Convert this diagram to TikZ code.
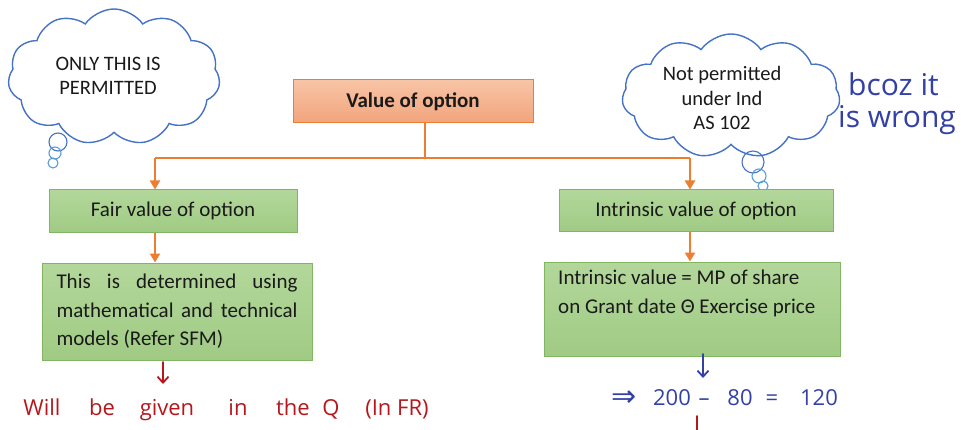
\documentclass[tikz,border=0pt]{standalone}
\usepackage{fontspec}
\setmainfont{Carlito}
\newfontfamily\handfont{Open Sans}
\newfontfamily\symfont{DejaVu Sans}
\usetikzlibrary{shapes.symbols,arrows.meta}

\definecolor{orangeline}{HTML}{ED7D31}
\definecolor{orangetop}{HTML}{F8C4A6}
\definecolor{orangebot}{HTML}{F2A47C}
\definecolor{greentop}{HTML}{B3D79B}
\definecolor{greenbot}{HTML}{A0CB84}
\definecolor{greenedge}{HTML}{82B562}
\definecolor{cloudblue}{HTML}{4472C4}
\definecolor{bubbleblue}{HTML}{5B9BD5}
\definecolor{inkblue}{HTML}{3341A6}
\definecolor{inkred}{HTML}{B5171C}
\definecolor{textcol}{HTML}{1A1A1A}

\tikzset{
  mainbox/.style={draw=orangeline, line width=1pt, top color=orangetop, bottom color=orangebot,
    inner sep=0pt, text=textcol, font=\fontsize{21}{28.5}\selectfont\bfseries},
  greenbox/.style={draw=greenedge, line width=1pt, top color=greentop, bottom color=greenbot,
    inner sep=0pt, text=textcol, font=\fontsize{21}{28.5}\selectfont},
  flow/.style={draw=orangeline, line width=2.4pt},
  flowarrow/.style={flow, -{Triangle[length=9pt,width=10pt]}},
  thought/.style={cloud, cloud puffs=11, cloud puff arc=110, draw=cloudblue, line width=1.4pt,
    fill=white, inner sep=0pt},
  cloudtext/.style={align=center, inner sep=0pt, text=textcol, font=\fontsize{20.5}{24.5}\selectfont},
  bubble/.style={draw=bubbleblue, line width=1.1pt, fill=none},
  inkb/.style={text=inkblue, font=\handfont\fontsize{22}{26}\selectfont, inner sep=0pt, anchor=base},
  inkr/.style={text=inkred, font=\handfont\fontsize{22}{26}\selectfont, inner sep=0pt, anchor=base},
  inkbigb/.style={text=inkblue, font=\handfont\fontsize{30}{34}\selectfont, inner sep=0pt},
  inkarrow/.style={line width=1.8pt, line cap=round, -{Straight Barb[length=6pt,width=11pt]}},
}

\begin{document}
\begin{tikzpicture}[x=1pt,y=-1pt]
\useasboundingbox (0,0) rectangle (973,430);

% thought clouds with their trailing bubbles
\node[thought, minimum width=212pt, minimum height=136pt] (cloudL) at (114,77) {};
\node[cloudtext] (cloudLtext) at (108,76) {ONLY THIS IS\\PERMITTED};
\draw[bubble, draw=cloudblue] (58,142) circle (9pt);
\draw[bubble] (55,153) circle (6pt);
\draw[bubble] (53,163) circle (5pt);

\node[thought, minimum width=218pt, minimum height=124pt] (cloudR) at (731,96) {};
\node[cloudtext] (cloudRtext) at (722,98) {Not permitted\\under Ind\\AS 102};
\draw[bubble, draw=cloudblue] (753,162) circle (11pt);
\draw[bubble] (759,176) circle (7pt);
\draw[bubble] (763,186) circle (5pt);

% boxes
\node[mainbox, minimum width=240pt, minimum height=43pt] (top) at (413,101.5) {Value of option};
\node[greenbox, minimum width=248pt, minimum height=42pt] (fair) at (173,211) {Fair value of option};
\node[greenbox, minimum width=274pt, minimum height=41pt] (intr) at (696,210.5) {Intrinsic value of option};
\node[greenbox, minimum width=270pt, minimum height=97pt, text width=241pt, align=justify] (det) at (177,311.5)
  {This is determined using\linebreak mathematical and technical models (Refer SFM)};
\node[greenbox, minimum width=296pt, minimum height=94pt] (calc) at (692,309) {};
\node[anchor=north west, inner sep=0pt, text=textcol, align=left,
  font=\fontsize{21}{28.5}\selectfont] (calctext) at (558,270)
  {Intrinsic value = MP of share\\on Grant date Θ Exercise price};

% orange connectors
\coordinate (junction) at (425,158);
\coordinate (lbranch) at (155,158);
\coordinate (rbranch) at (690,158);
\draw[flow] (top.south -| junction) -- (junction);
\draw[flow] (lbranch) -- (rbranch);
\draw[flowarrow] (lbranch) -- (lbranch |- fair.north);
\draw[flowarrow] (rbranch) -- (rbranch |- intr.north);
\draw[flowarrow] (fair.south -| lbranch) -- (det.north -| lbranch);
\draw[flowarrow] (intr.south -| rbranch) -- (calc.north -| rbranch);

% handwritten notes
\node[inkbigb, anchor=west] (why1) at (848,84) {bcoz it};
\node[inkbigb, anchor=west] (why2) at (838,120) {is wrong};

\coordinate (redfrom) at (163,362);
\coordinate (redto) at (163,384);
\draw[inkarrow, inkred] (redfrom) -- (redto);
\node[inkr] (w1) at (42,415) {Will};
\node[inkr] (w2) at (102,415) {be};
\node[inkr] (w3) at (167,415) {given};
\node[inkr] (w4) at (238,415) {in};
\node[inkr] (w5) at (293,415) {the};
\node[inkr] (w6) at (331,415) {Q};
\node[inkr] (w7) at (397,415) {(In FR)};

\coordinate (bluefrom) at (703,354);
\coordinate (blueto) at (703,378);
\draw[inkarrow, inkblue] (bluefrom) -- (blueto);
\node[inkb, font=\symfont\fontsize{30}{32}\selectfont] (b1) at (624,406) {⇒};
\node[inkb] (b2) at (672,405) {200};
\node[inkb] (b3) at (704,405) {–};
\node[inkb] (b4) at (740,405) {80};
\node[inkb] (b5) at (772,405) {=};
\node[inkb] (b6) at (819,405) {120};

\coordinate (red2from) at (697,416);
\coordinate (red2to) at (697,438);
\draw[inkarrow, inkred] (red2from) -- (red2to);
\end{tikzpicture}
\end{document}
